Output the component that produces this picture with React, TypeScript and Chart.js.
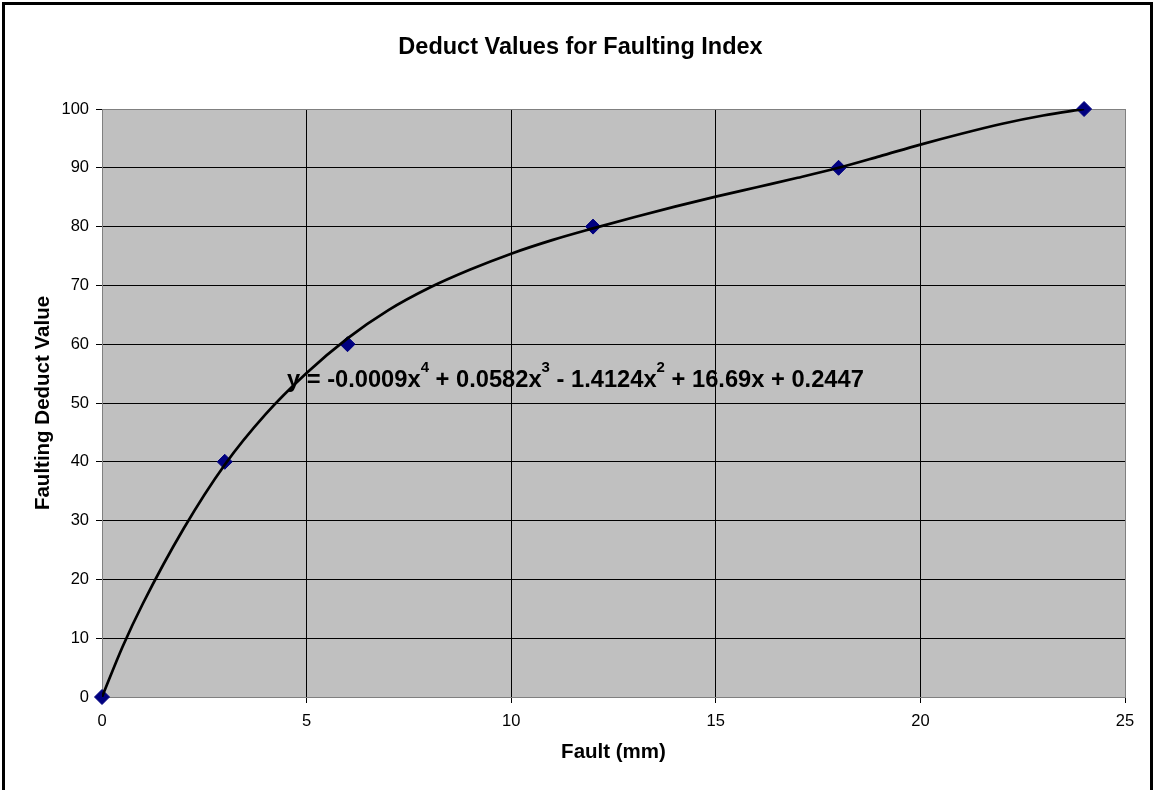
import React, { useEffect, useRef } from "react";
import { Chart, registerables } from "chart.js";

Chart.register(...registerables);

// Measured data points
const faultMm = [0, 3, 6, 12, 18, 24];
const deductValues = [0, 40, 60, 80, 90, 100];

// Polynomial trendline
const trendFault = [0, 0.5, 1, 2, 3, 4, 5, 6, 7, 8, 9, 10, 11, 12, 13, 14, 15, 16, 17, 18, 19, 20, 21, 22, 23, 24];
const trendDeduct = [0, 8.5, 15.9, 28.7, 39.5, 48.1, 55.1, 61.0, 65.8, 69.6, 72.7, 75.4, 77.7, 79.7, 81.6, 83.4, 85.1, 86.7, 88.3, 90.0, 91.95, 93.95, 95.8, 97.5, 98.9, 100];

const xTicks = [0, 5, 10, 15, 20, 25];
const yTicks = [0, 10, 20, 30, 40, 50, 60, 70, 80, 90, 100];

const chartTitle = "Deduct Values for Faulting Index";
const xTitle = "Fault (mm)";
const yTitle = "Faulting Deduct Value";
const equationMain = ["y = -0.0009x", " + 0.0582x", " - 1.4124x", " + 16.69x + 0.2447"];
const equationSup = ["4", "3", "2", ""];
const equationAnchor = { x: 4.52, y: 52.7 };

const FAMILY = '"Liberation Sans", Arial, Helvetica, sans-serif';

const framePlugin = {
  id: "frame",
  beforeDraw(chart: any) {
    const { ctx, chartArea: a, width, height } = chart;
    ctx.save();
    ctx.fillStyle = "#ffffff";
    ctx.fillRect(0, 0, width, height);
    ctx.fillStyle = "#C0C0C0";
    ctx.fillRect(a.left, a.top, a.right - a.left, a.bottom - a.top);
    ctx.strokeStyle = "#000000";
    ctx.lineWidth = 3;
    ctx.strokeRect(3.5, 3.5, width - 8, height + 20);
    ctx.restore();
  },
  afterDatasetsDraw(chart: any) {
    const { ctx } = chart;
    const xs = chart.scales.x;
    const ys = chart.scales.y;
    let x = xs.getPixelForValue(equationAnchor.x);
    const y = ys.getPixelForValue(equationAnchor.y);
    ctx.save();
    ctx.fillStyle = "#000000";
    ctx.textBaseline = "alphabetic";
    ctx.textAlign = "left";
    for (let i = 0; i < equationMain.length; i++) {
      ctx.font = `bold 23.7px ${FAMILY}`;
      ctx.fillText(equationMain[i], x, y);
      x += ctx.measureText(equationMain[i]).width;
      if (equationSup[i]) {
        ctx.font = `bold 15px ${FAMILY}`;
        ctx.fillText(equationSup[i], x, y - 15);
        x += ctx.measureText(equationSup[i]).width;
      }
    }
    ctx.restore();
  },
};

export default function App() {
  const ref = useRef<HTMLCanvasElement | null>(null);

  useEffect(() => {
    document.body.style.margin = "0";
    const canvas = ref.current;
    if (!canvas) return;
    const edgeGray = "#808080";
    const chart = new Chart(canvas, {
      type: "scatter",
      data: {
        datasets: [
          {
            label: "Trendline",
            data: trendFault.map((f, i) => ({ x: f, y: trendDeduct[i] })),
            showLine: true,
            borderColor: "#000000",
            borderWidth: 2.7,
            pointRadius: 0,
            cubicInterpolationMode: "monotone",
            fill: false,
            order: 0,
          } as any,
          {
            label: "Deduct Value",
            data: faultMm.map((f, i) => ({ x: f, y: deductValues[i] })),
            showLine: false,
            pointStyle: "rectRot",
            pointRadius: 7.5,
            backgroundColor: "#000080",
            borderColor: "#000080",
            borderWidth: 1,
            clip: false,
            order: 1,
          } as any,
        ],
      },
      options: {
        responsive: false,
        animation: false,
        devicePixelRatio: 1,
        layout: { padding: { left: 36, right: 31, top: 0, bottom: 0 } },
        plugins: {
          legend: { display: false },
          tooltip: { enabled: false },
          title: {
            display: true,
            text: chartTitle,
            color: "#000000",
            font: { family: FAMILY, size: 23.5, weight: "bold", lineHeight: 1.2 },
            padding: { top: 33.4, bottom: 47.4 },
          },
        },
        scales: {
          x: {
            type: "linear",
            min: 0,
            max: 25,
            afterBuildTicks: (s: any) => {
              s.ticks = xTicks.map((v) => ({ value: v }));
            },
            afterFit: (s: any) => {
              s.height = 93;
            },
            grid: {
              color: (c: any) => (c.tick && (c.tick.value === 25 || c.tick.value === 0) ? edgeGray : "#000000"),
              lineWidth: 1,
              tickLength: 6,
              tickColor: "#000000",
              drawTicks: true,
            },
            border: { display: true, color: edgeGray, width: 1 },
            ticks: {
              color: "#000000",
              font: { family: FAMILY, size: 16.5 },
              padding: 9,
              maxRotation: 0,
              autoSkip: false,
            },
            title: {
              display: true,
              text: xTitle,
              color: "#000000",
              font: { family: FAMILY, size: 20.5, weight: "bold", lineHeight: 1.2 },
              padding: { top: 0, bottom: 25.7 },
            },
          },
          y: {
            type: "linear",
            min: 0,
            max: 100,
            afterBuildTicks: (s: any) => {
              s.ticks = yTicks.map((v) => ({ value: v }));
            },
            afterFit: (s: any) => {
              s.width = 66;
            },
            grid: {
              color: (c: any) => (c.tick && (c.tick.value === 100 || c.tick.value === 0) ? edgeGray : "#000000"),
              lineWidth: 1,
              tickLength: 6,
              tickColor: "#000000",
              drawTicks: true,
            },
            border: { display: true, color: edgeGray, width: 1 },
            ticks: {
              color: "#000000",
              font: { family: FAMILY, size: 16.5 },
              padding: 7,
              autoSkip: false,
            },
            title: {
              display: true,
              text: yTitle,
              color: "#000000",
              font: { family: FAMILY, size: 20.5, weight: "bold", lineHeight: 1.2 },
              padding: { top: -5.3, bottom: 0 },
            },
          },
        },
      } as any,
      plugins: [framePlugin],
    });
    return () => chart.destroy();
  }, []);

  return (
    <div style={{ position: "absolute", left: 0, top: 0, width: 1156, height: 790 }}>
      <canvas ref={ref} width={1156} height={790} style={{ display: "block", width: 1156, height: 790 }} />
    </div>
  );
}
